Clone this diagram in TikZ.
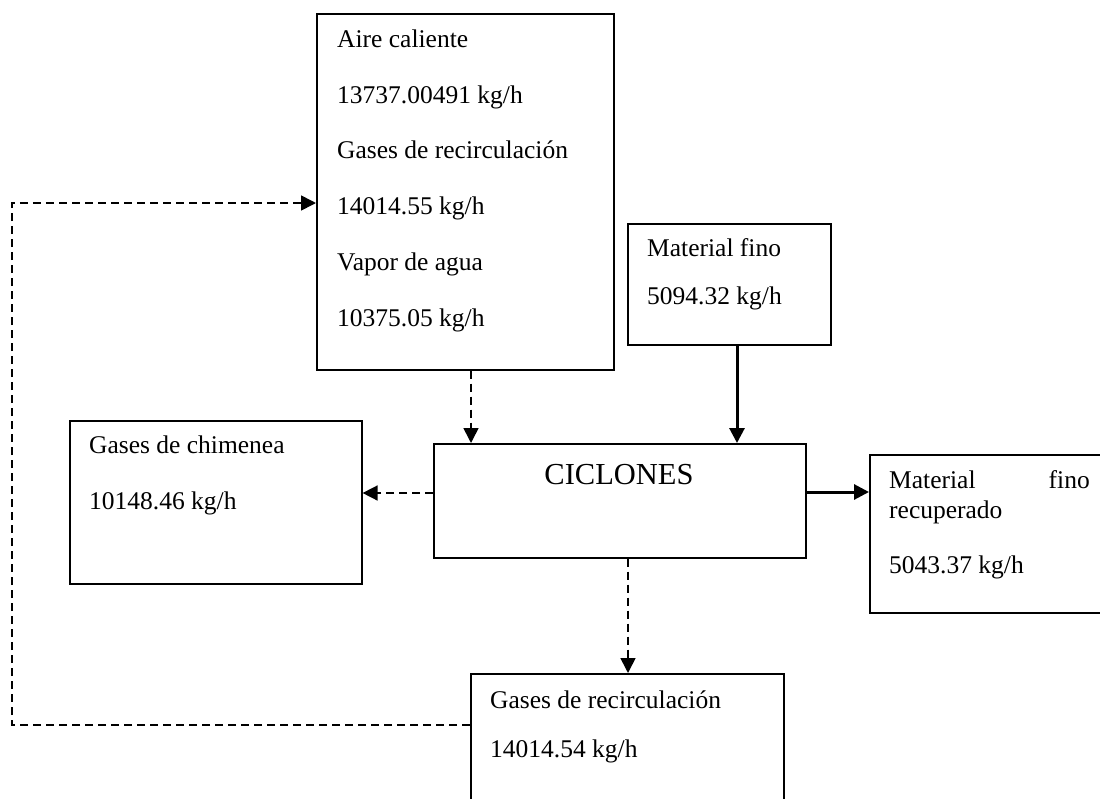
\documentclass[tikz,border=0pt]{standalone}
\usepackage{fontspec}
\setmainfont{Liberation Serif}
\usetikzlibrary{arrows.meta}
\begin{document}
\begin{tikzpicture}[x=1pt,y=-1pt,
  box/.style={draw, line width=1.6pt, rectangle, inner sep=0pt, anchor=north west},
  txt/.style={anchor=base west, inner sep=0pt, font=\fontsize{25.5}{30}\selectfont},
  big/.style={anchor=base, inner sep=0pt, font=\fontsize{30.5}{36}\selectfont},
  dasharrow/.style={line width=1.6pt, dash pattern=on 8pt off 5pt, -{Triangle[length=15pt,width=15pt]}},
  thickarrow/.style={line width=3pt, -{Triangle[length=15pt,width=15pt]}}]
\useasboundingbox (0,0) rectangle (1100,798);
\clip (0,0) rectangle (1100,798);
\fill[white] (0,0) rectangle (1100,798);

% boxes
\node[box, minimum width=297pt, minimum height=356pt] (top) at (316,13) {};
\node[box, minimum width=203pt, minimum height=121pt] (fino) at (627,223) {};
\node[box, minimum width=372pt, minimum height=114pt] (cic) at (433,443) {};
\node[box, minimum width=292pt, minimum height=163pt] (chim) at (69,420) {};
\node[box, minimum width=250pt, minimum height=158pt] (recu) at (869,454) {};
\node[box, minimum width=313pt, minimum height=160pt] (recir) at (470,673) {};

% texts
\node[txt] (t1) at (337,47) {Aire caliente};
\node[txt] (t2) at (337,103) {13737.00491 kg/h};
\node[txt] (t3) at (337,158) {Gases de recirculación};
\node[txt] (t4) at (337,214) {14014.55 kg/h};
\node[txt] (t5) at (337,270) {Vapor de agua};
\node[txt] (t6) at (337,326) {10375.05 kg/h};

\node[txt] (f1) at (647,256) {Material fino};
\node[txt] (f2) at (647,304) {5094.32 kg/h};

\node[big] (c1) at (619,484) {CICLONES};

\node[txt] (g1) at (89,453) {Gases de chimenea};
\node[txt] (g2) at (89,509) {10148.46 kg/h};

\node[txt] (r1) at (889,488) {Material};
\node[txt, anchor=base east] (r2) at (1090,488) {fino};
\node[txt] (r3) at (889,518) {recuperado};
\node[txt] (r4) at (889,573) {5043.37 kg/h};

\node[txt] (b1) at (490,708) {Gases de recirculación};
\node[txt] (b2) at (490,757) {14014.54 kg/h};

% connector helper coordinates
\coordinate (xa) at (471,0);
\coordinate (xb) at (737,0);
\coordinate (xc) at (628,0);
\coordinate (ya) at (0,493);
\coordinate (yb) at (0,492);
\coordinate (yc) at (0,725);
\coordinate (yd) at (0,203);
\coordinate (xl) at (12,0);

% connectors
\draw[dasharrow] (top.south -| xa) -- (cic.north -| xa);
\draw[thickarrow] (fino.south -| xb) -- (cic.north -| xb);
\draw[dasharrow] (cic.west |- ya) -- (chim.east |- ya);
\draw[thickarrow] (cic.east |- yb) -- (recu.west |- yb);
\draw[dasharrow] (cic.south -| xc) -- (recir.north -| xc);
\draw[dasharrow] (recir.west |- yc) -- (xl |- yc) -- (xl |- yd) -- (top.west |- yd);
\end{tikzpicture}
\end{document}
